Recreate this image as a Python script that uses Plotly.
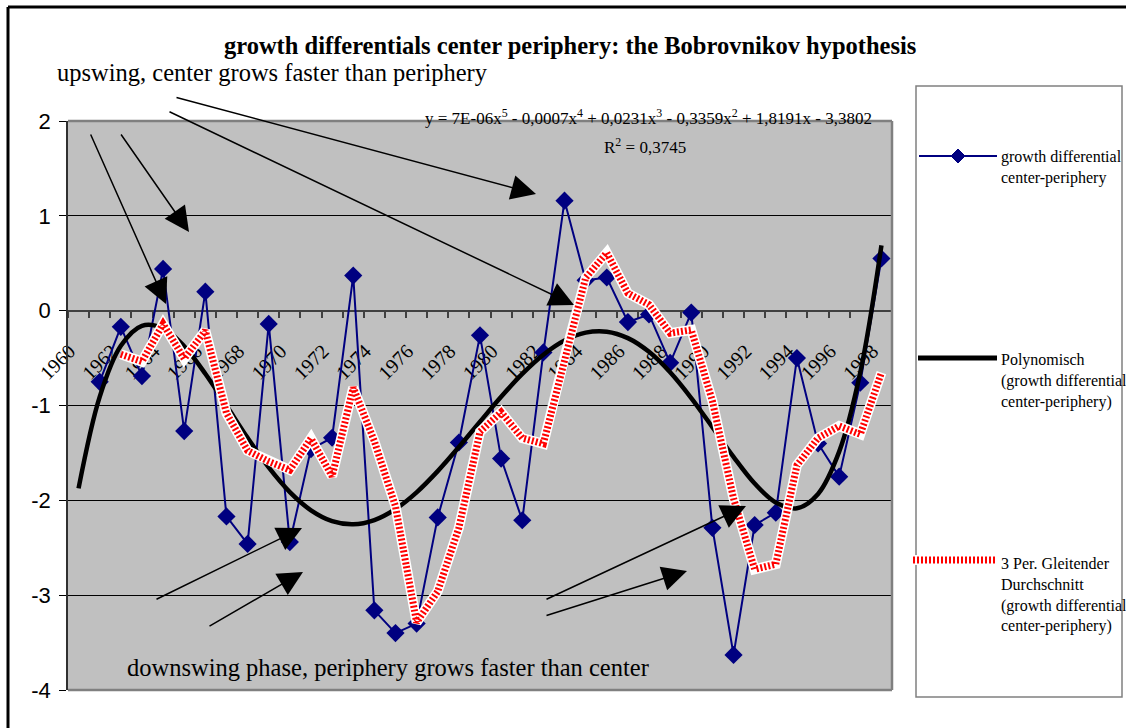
import numpy as np
import plotly.graph_objects as go

# ---------------- data ----------------
years = list(range(1960, 1999))
growth_diff = [None, -0.75, -0.17, -0.69, 0.44, -1.27, 0.20, -2.17, -2.46, -0.14,
               -2.44, -1.46, -1.34, 0.37, -3.16, -3.40, -3.30, -2.18, -1.39, -0.26,
               -1.56, -2.21, -0.44, 1.16, 0.32, 0.35, -0.12, -0.04, -0.55, -0.02,
               -2.29, -3.63, -2.26, -2.13, -0.50, -1.40, -1.75, -0.76, 0.55]
label_years = list(range(1960, 1999, 2))
y_ticks = [-4, -3, -2, -1, 0, 1, 2]

# 3-period moving average (as Excel computes it, blanks skipped)
ma3 = []
for i in range(len(growth_diff)):
    if i < 2:
        ma3.append(None)
        continue
    win = [v for v in growth_diff[i - 2:i + 1] if v is not None]
    ma3.append(sum(win) / len(win) if win else None)

# 5th-degree polynomial trendline (x = 1..N like Excel)
xs_fit = [i + 1 for i, v in enumerate(growth_diff) if v is not None]
ys_fit = [v for v in growth_diff if v is not None]
coef = np.polyfit(xs_fit, ys_fit, 5)
poly_x = np.arange(1, len(years) + 1)
poly_y = np.polyval(coef, poly_x)

# ---------------- layout helpers ----------------
W, H = 1126, 728
L, R, T, B = 68, 892, 121, 690


def px(x):
    return (x - L) / (R - L)


def py(y):
    return (B - y) / (B - T)


SERIF = "Liberation Serif, Times New Roman, serif"
SANS = "Liberation Sans, Arial, sans-serif"
NAVY = "#000080"

fig = go.Figure()

fig.add_trace(go.Scatter(
    x=years, y=growth_diff, mode="lines+markers",
    line=dict(color=NAVY, width=2),
    marker=dict(symbol="diamond", size=14, color=NAVY),
    showlegend=False, connectgaps=False))

fig.add_trace(go.Scatter(
    x=[years[0] + k - 1 for k in poly_x], y=poly_y, mode="lines",
    line=dict(color="black", width=4.5, shape="spline"),
    showlegend=False))

fig.add_trace(go.Scatter(
    x=years, y=ma3, mode="lines",
    line=dict(color="white", width=10), showlegend=False))
fig.add_trace(go.Scatter(
    x=years, y=ma3, mode="lines",
    line=dict(color="#FF0000", width=7, dash="2px,2px"), showlegend=False))

shapes = []
annotations = []

# outer chart border (top & left)
shapes.append(dict(type="line", xref="paper", yref="paper",
                   x0=px(8), y0=py(7), x1=px(1130), y1=py(7),
                   line=dict(color="black", width=3)))
shapes.append(dict(type="line", xref="paper", yref="paper",
                   x0=px(8), y0=py(7), x1=px(8), y1=py(735),
                   line=dict(color="black", width=3)))

# plot-area border (top, right, bottom)
for (x0, y0, x1, y1) in [(L, T, R, T), (R, T, R, B), (L, B, R, B)]:
    shapes.append(dict(type="line", xref="paper", yref="paper",
                       x0=px(x0), y0=py(y0), x1=px(x1), y1=py(y1),
                       line=dict(color="#808080", width=2.5)))

# legend box
shapes.append(dict(type="rect", xref="paper", yref="paper",
                   x0=px(916), y0=py(86), x1=px(1122), y1=py(697),
                   line=dict(color="#808080", width=1.5), fillcolor="white",
                   layer="below"))
# legend entry 1
shapes.append(dict(type="line", xref="paper", yref="paper",
                   x0=px(919), y0=py(156), x1=px(997), y1=py(156),
                   line=dict(color=NAVY, width=2)))
cx, cy, d = 958, 156, 7
shapes.append(dict(type="path", xref="paper", yref="paper",
                   path=f"M {px(cx)},{py(cy-d)} L {px(cx+d)},{py(cy)} L {px(cx)},{py(cy+d)} L {px(cx-d)},{py(cy)} Z",
                   fillcolor=NAVY, line=dict(color=NAVY, width=1)))
# legend entry 2
shapes.append(dict(type="line", xref="paper", yref="paper",
                   x0=px(918), y0=py(358), x1=px(997), y1=py(358),
                   line=dict(color="black", width=5)))
# legend entry 3
shapes.append(dict(type="line", xref="paper", yref="paper",
                   x0=px(913), y0=py(560), x1=px(997), y1=py(560),
                   line=dict(color="white", width=10)))
shapes.append(dict(type="line", xref="paper", yref="paper",
                   x0=px(913), y0=py(560), x1=px(997), y1=py(560),
                   line=dict(color="#FF0000", width=7, dash="2px,2px")))

leg_font = dict(family=SERIF, size=16, color="black")
for text, yc in [("growth differential<br>center-periphery", 167),
                 ("Polynomisch<br>(growth differential<br>center-periphery)", 381),
                 ("3 Per. Gleitender<br>Durchschnitt<br>(growth differential<br>center-periphery)", 595)]:
    annotations.append(dict(xref="paper", yref="paper", x=px(999), y=py(yc),
                            xanchor="left", yanchor="middle", align="left",
                            text=text, showarrow=False, font=leg_font))

# free texts
annotations.append(dict(xref="paper", yref="paper", x=px(570), y=py(45),
                        xanchor="center", yanchor="middle",
                        text="<b>growth differentials center periphery: the Bobrovnikov hypothesis</b>",
                        showarrow=False, font=dict(family=SERIF, size=24.5, color="black")))
annotations.append(dict(xref="paper", yref="paper", x=px(55), y=py(72),
                        xanchor="left", yanchor="middle",
                        text="upswing, center grows faster than periphery",
                        showarrow=False, font=dict(family=SERIF, size=24.5, color="black")))
annotations.append(dict(xref="paper", yref="paper", x=px(125), y=py(667),
                        xanchor="left", yanchor="middle",
                        text="downswing phase, periphery grows faster than center",
                        showarrow=False, font=dict(family=SERIF, size=24.5, color="black")))
annotations.append(dict(xref="paper", yref="paper", x=px(874), y=py(117),
                        xanchor="right", yanchor="middle",
                        text="y = 7E-06x<sup>5</sup> - 0,0007x<sup>4</sup> + 0,0231x<sup>3</sup> - 0,3359x<sup>2</sup> + 1,8191x - 3,3802",
                        showarrow=False, font=dict(family=SERIF, size=17, color="black")))
annotations.append(dict(xref="paper", yref="paper", x=px(645), y=py(146),
                        xanchor="center", yanchor="middle",
                        text="R<sup>2</sup> = 0,3745",
                        showarrow=False, font=dict(family=SERIF, size=17, color="black")))

# arrows: (tail_x, tail_y, head_x, head_y) in pixels
arrows = [(90, 133, 166, 304),
          (120, 133, 189, 232),
          (175, 97, 536, 194),
          (168, 111, 574, 305),
          (155, 600, 302, 528),
          (208, 627, 303, 572),
          (545, 600, 746, 506),
          (545, 616, 687, 571)]
for tx, ty, hx, hy in arrows:
    annotations.append(dict(xref="paper", yref="paper", x=px(hx), y=py(hy),
                            ax=tx - hx, ay=ty - hy, text="", showarrow=True,
                            arrowhead=2, arrowsize=3.3, arrowwidth=1.5,
                            arrowcolor="black", standoff=0))

fig.update_layout(
    width=W, height=H,
    margin=dict(l=L, r=W - R, t=T, b=H - B, pad=0),
    paper_bgcolor="white", plot_bgcolor="#C0C0C0",
    showlegend=False,
    shapes=shapes, annotations=annotations,
    xaxis=dict(type="linear", range=[1959.5, 1998.5], anchor="free",
               position=4 / 6, tickmode="array", tickvals=label_years,
               ticktext=[str(y) for y in label_years], tickangle=-45,
               tickfont=dict(family=SERIF, size=20, color="black"),
               ticks="outside", ticklen=6, tickcolor="rgba(0,0,0,0)",
               ticklabelshift=-9, ticklabelstandoff=14,
               showline=True, linecolor="#404040", linewidth=2,
               showgrid=False, zeroline=False, layer="below traces",
               automargin=False,
               minor=dict(tickmode="array",
                          tickvals=[y + 0.5 for y in range(1959, 1999)],
                          ticks="outside", ticklen=6, tickcolor="#404040",
                          tickwidth=1.5, showgrid=False)),
    yaxis=dict(range=[-4, 2], tickmode="array", tickvals=y_ticks,
               ticktext=[str(v) for v in y_ticks],
               tickfont=dict(family=SANS, size=22, color="black"),
               ticks="outside", ticklen=7, tickcolor="black",
               ticklabelstandoff=4,
               showline=True, linecolor="#303030", linewidth=1.5,
               showgrid=True, gridcolor="black", gridwidth=1,
               zeroline=False, automargin=False),
)

fig.write_html("out.html")
